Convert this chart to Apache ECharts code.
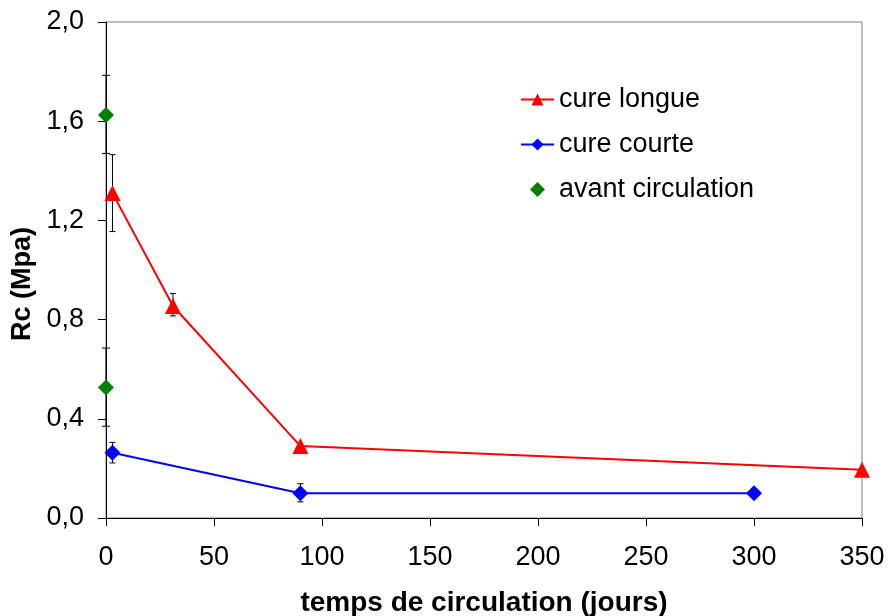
<!DOCTYPE html>
<html>
<head>
<meta charset="utf-8">
<script src="https://cdn.jsdelivr.net/npm/echarts@6/dist/echarts.min.js"></script>
<style>
	html, body { margin: 0; padding: 0; background: #fff; }
	#chart { width: 888px; height: 616px; }
</style>
</head>
<body>
<div id="chart"></div>
<script>
// valeurs
var cureLongue = [[3, 1.31], [31, 0.855], [90, 0.29], [350, 0.195]];
var cureLongueErr = [[3, 1.155, 1.465], [31, 0.815, 0.905]];
var cureCourte = [[3, 0.263], [90, 0.10], [300, 0.10]];
var cureCourteErr = [[3, 0.222, 0.305], [90, 0.065, 0.138]];
var avantCirc = [[0, 1.625], [0, 0.526]];
var avantCircErr = [[0, 1.47, 1.785], [0, 0.37, 0.685]];
var seriesNames = ['cure longue', 'cure courte', 'avant circulation'];

var font = 'Liberation Sans, Arial, sans-serif';

var errorBars = function(data, capW){
	return {
		type: 'custom',
		data: data,
		clip: false,
		z: 1,
		encode: { x: 0, y: [1, 2] },
		renderItem: function(params, api){
			var x = api.value(0);
			var lo = api.coord([x, api.value(1)]);
			var hi = api.coord([x, api.value(2)]);
			var st = { stroke: '#000', lineWidth: 1 };
			return {
				type: 'group',
				children: [
					{ type: 'line', shape: { x1: lo[0], y1: lo[1], x2: hi[0], y2: hi[1] }, style: st },
					{ type: 'line', shape: { x1: lo[0] - capW, y1: lo[1], x2: lo[0] + capW, y2: lo[1] }, style: st },
					{ type: 'line', shape: { x1: hi[0] - capW, y1: hi[1], x2: hi[0] + capW, y2: hi[1] }, style: st }
				]
			};
		}
	};
};

var chart = echarts.init(document.getElementById('chart'));
chart.setOption({
	animation: false,
	textStyle: { fontFamily: font },
	grid: {
		left: 106, right: 26, top: 22, bottom: 98,
		outerBoundsMode: 'none',
		show: true, borderColor: '#808080', borderWidth: 1
	},
	legend: {
		data: [
			{ name: seriesNames[0] },
			{ name: seriesNames[1] },
			{ name: seriesNames[2], icon: 'path://M0,-1L1,0L0,1L-1,0Z' }
		],
		orient: 'vertical',
		left: 515, top: 81,
		itemWidth: 33, itemHeight: 15, itemGap: 18,
		textStyle: { fontSize: 27, color: '#000', fontFamily: font }
	},
	xAxis: {
		type: 'value', min: 0, max: 350, interval: 50,
		name: 'temps de circulation (jours)',
		nameLocation: 'middle', nameGap: 71,
		nameTextStyle: { fontSize: 28, fontWeight: 'bold', color: '#000', fontFamily: font },
		axisLine: { lineStyle: { color: '#000', width: 1 } },
		axisTick: { length: 8, lineStyle: { color: '#000' } },
		axisLabel: { fontSize: 27, color: '#000', margin: 26 },
		splitLine: { show: false }
	},
	yAxis: {
		type: 'value', min: 0, max: 2, interval: 0.4,
		name: 'Rc (Mpa)',
		nameLocation: 'middle', nameGap: 70,
		nameTextStyle: {
			fontSize: 27, fontWeight: 'bold', color: '#000', fontFamily: font,
			padding: [0, 28, 0, 0]
		},
		axisLine: { show: true, lineStyle: { color: '#000', width: 1 } },
		axisTick: { show: true, length: 8, lineStyle: { color: '#000' } },
		axisLabel: {
			fontSize: 27, color: '#000', margin: 22,
			formatter: function(v){ return v.toFixed(1).replace('.', ','); }
		},
		splitLine: { show: false }
	},
	series: [
		errorBars(cureLongueErr, 3),
		errorBars(cureCourteErr, 3),
		errorBars(avantCircErr, 4),
		{
			name: 'cure longue', type: 'line', data: cureLongue, clip: false, z: 3,
			symbol: 'triangle', symbolSize: 16,
			lineStyle: { color: '#ff0000', width: 2 },
			itemStyle: { color: '#ff0000' }
		},
		{
			name: 'cure courte', type: 'line', data: cureCourte, clip: false, z: 3,
			symbol: 'diamond', symbolSize: 16,
			lineStyle: { color: '#0000ff', width: 2 },
			itemStyle: { color: '#0000ff' }
		},
		{
			name: 'avant circulation', type: 'scatter', data: avantCirc, clip: false, z: 3,
			symbol: 'diamond', symbolSize: 16,
			itemStyle: { color: '#008000', opacity: 1 }
		}
	]
});
</script>
</body>
</html>
